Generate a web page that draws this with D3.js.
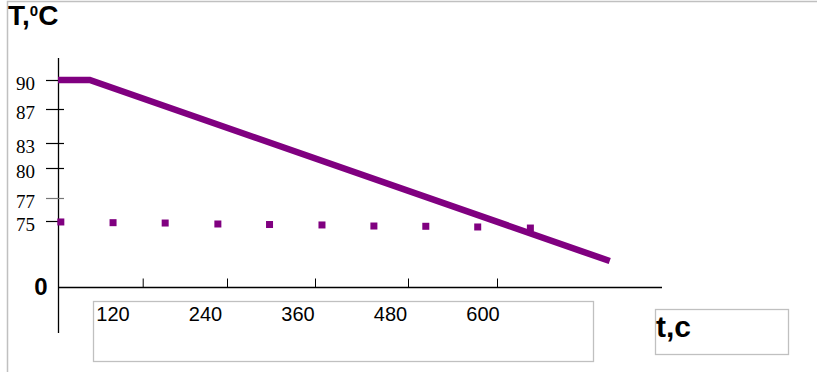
<!DOCTYPE html>
<html>
<head>
<meta charset="utf-8">
<script src="https://cdn.jsdelivr.net/npm/d3@7"></script>
<style>
  body { margin: 0; background: #fff; }
  svg { display: block; }
</style>
</head>
<body>
<svg width="817" height="372"></svg>
<script>
// tick labels (axes are hand-drawn, not evenly spaced)
const tTicks = [120, 240, 360, 480, 600]
const TTicks = [90, 87, 83, 80, 77, 75]

// cooling curve (t, T)
const lineT = [0, 45, 752]
const lineTemp = [90, 90, 29.5]

// measured points
const ptT = [4, 78, 152, 227, 298, 369, 436, 504, 574, 645]
const ptTemp = [73.9, 73.1, 72.7, 71.6, 71.0, 70.5, 69.3, 69.0, 68.2, 67.0]

const purple = "#800080"
const svg = d3.select("svg")

// piecewise scales follow the uneven ticks of the picture
const x = d3.scaleLinear()
  .domain([0, 120, 240, 360, 480, 600])
  .range([58, 142.7, 227, 315, 408, 497])
const y = d3.scaleLinear()
  .domain([0, 75, 77, 80, 83, 87, 90])
  .range([287, 221, 198, 168, 143, 109, 80])
const labelX = d3.scaleLinear().domain([120, 600]).range([113, 483])

// frame
svg.append("path")
  .attr("d", "M7.5,372 V1.5 H817")
  .attr("fill", "none").attr("stroke", "#c0c0c0").attr("stroke-width", 1.5)

// axes
svg.append("line")
  .attr("x1", 58.5).attr("x2", 58.5).attr("y1", 58).attr("y2", 333)
  .attr("stroke", "#000").attr("stroke-width", 1.3)
svg.append("line")
  .attr("x1", 58).attr("x2", 662).attr("y1", y(0) + 0.5).attr("y2", y(0) + 0.5)
  .attr("stroke", "#000").attr("stroke-width", 1.3)

const xAxis = svg.append("g")
  .attr("transform", "translate(0," + (y(0) + 0.5) + ")")
  .call(d3.axisBottom(x).tickValues(tTicks).tickSize(-9).tickFormat(""))
xAxis.select(".domain").remove()
xAxis.selectAll("line").attr("stroke", "#000")

// y ticks cross the axis
svg.selectAll(".ytick")
  .data(TTicks)
  .join("line")
  .attr("class", "ytick")
  .attr("x1", 46).attr("x2", 64)
  .attr("y1", d => y(d) + 0.5).attr("y2", d => y(d) + 0.5)
  .attr("stroke", d => d == 77 ? "#777" : "#000")
  .attr("stroke-width", 1.2)

svg.selectAll(".ylab")
  .data(TTicks)
  .join("text")
  .attr("class", "ylab")
  .attr("x", 35)
  .attr("y", d => y(d) + 10)
  .attr("text-anchor", "end")
  .attr("font-family", "Liberation Serif, serif")
  .attr("font-size", 19)
  .text(d => d)

svg.append("text")
  .attr("x", 41).attr("y", y(0) + 8)
  .attr("text-anchor", "middle")
  .attr("font-family", "Liberation Sans, Arial, sans-serif")
  .attr("font-weight", "bold").attr("font-size", 24)
  .text("0")

// x label box
svg.append("rect")
  .attr("x", 93.5).attr("y", 301.5).attr("width", 500).attr("height", 60)
  .attr("fill", "none").attr("stroke", "#c0c0c0").attr("stroke-width", 1.3)

svg.selectAll(".xlab")
  .data(tTicks)
  .join("text")
  .attr("class", "xlab")
  .attr("x", d => labelX(d))
  .attr("y", 321)
  .attr("text-anchor", "middle")
  .attr("font-family", "Liberation Sans, Arial, sans-serif")
  .attr("font-size", 20)
  .text(d => d)

// axis titles
const yTitle = svg.append("text")
  .attr("x", 8).attr("y", 25)
  .attr("font-family", "Liberation Sans, Arial, sans-serif")
  .attr("font-weight", "bold").attr("font-size", 28)
yTitle.append("tspan").text("T,")
yTitle.append("tspan").attr("font-size", 15).attr("dy", -9).text("0")
yTitle.append("tspan").attr("dy", 9).text("C")

svg.append("rect")
  .attr("x", 655.5).attr("y", 309.5).attr("width", 133).attr("height", 45)
  .attr("fill", "none").attr("stroke", "#c0c0c0").attr("stroke-width", 1.3)
svg.append("text")
  .attr("x", 656).attr("y", 337)
  .attr("font-family", "Liberation Sans, Arial, sans-serif")
  .attr("font-weight", "bold").attr("font-size", 30)
  .text("t,c")

// points
svg.selectAll(".pt")
  .data(d3.range(ptT.length))
  .join("rect")
  .attr("class", "pt")
  .attr("x", i => x(ptT[i]) - 3.5)
  .attr("y", i => y(ptTemp[i]) - 3.5)
  .attr("width", 7).attr("height", 7)
  .attr("fill", purple)

// line
const line = d3.line()
  .x(i => x(lineT[i]))
  .y(i => y(lineTemp[i]))
svg.append("path")
  .datum(d3.range(lineT.length))
  .attr("d", line)
  .attr("fill", "none")
  .attr("stroke", purple)
  .attr("stroke-width", 6.5)
</script>
</body>
</html>
